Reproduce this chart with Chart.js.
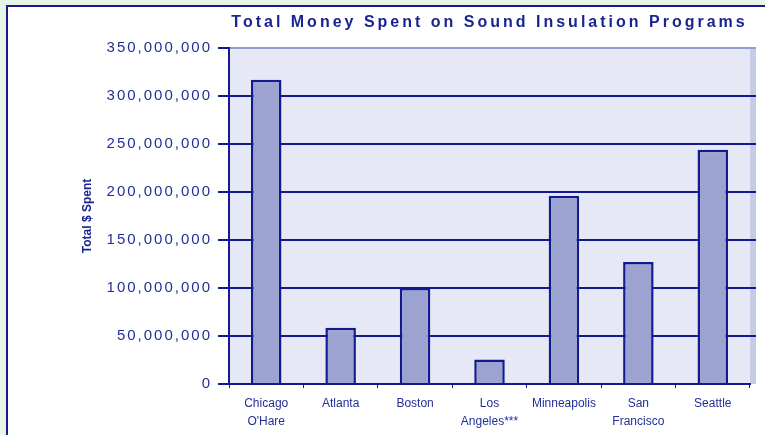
<!DOCTYPE html>
<html>
<head>
<meta charset="utf-8">
<script src="https://cdn.jsdelivr.net/npm/chart.js@4"></script>
<style>
  html, body { margin: 0; padding: 0; background: #e8f5e9; overflow: hidden; width: 765px; height: 435px; }
  #panel { position: absolute; left: 6px; top: 5px; width: 757px; height: 428px; background: #ffffff;
           border-left: 2px solid #161c8e; border-top: 2px solid #161c8e; }
  canvas { display: block; }
</style>
</head>
<body>
<div id="panel"><canvas id="c" width="757" height="428"></canvas></div>
<script>
// ---- data ----
const categories = [["Chicago", "O'Hare"], "Atlanta", "Boston", ["Los", "Angeles***"], "Minneapolis", ["San", "Francisco"], "Seattle"];
const totalSpent = [317000000, 58500000, 100000000, 25500000, 196000000, 127000000, 244000000];
const yTickValues = [0, 50000000, 100000000, 150000000, 200000000, 250000000, 300000000, 350000000];
const chartTitle = "Total Money Spent on Sound Insulation Programs";
const yAxisTitle = "Total $ Spent";

const NAVY = '#13198e';
const TEXT = '#232f97';
const FONT = "'Liberation Sans', Arial, sans-serif";
const WALL = 6;

function withSpacing(obj, method, spacing) {
  if (!obj || obj['__sp_' + method]) return;
  const orig = obj[method];
  obj[method] = function (...args) {
    const c = this.ctx;
    const prev = c.letterSpacing;
    c.letterSpacing = spacing;
    const r = orig.apply(this, args);
    c.letterSpacing = prev || '0px';
    return r;
  };
  obj['__sp_' + method] = true;
}

const plotDeco = {
  id: 'plotDeco',
  beforeDraw(chart) {
    const { ctx, chartArea: a } = chart;
    ctx.letterSpacing = '0px';
    withSpacing(chart.scales.y, 'drawLabels', '2px');
    withSpacing(chart.titleBlock, 'draw', '3px');
    ctx.save();
    ctx.fillStyle = '#e6e9f5';
    ctx.fillRect(a.left, a.top, a.right - a.left + WALL, a.bottom - a.top);
    ctx.fillStyle = '#c7cbe8';
    ctx.fillRect(a.right, a.top, WALL, a.bottom - a.top);
    ctx.fillStyle = '#959bd3';
    ctx.fillRect(a.left, a.top - 1, a.right - a.left + WALL, 2);
    ctx.restore();
  },
  beforeDatasetsDraw(chart) {
    const { ctx, chartArea: a, scales: { y } } = chart;
    ctx.save();
    ctx.strokeStyle = NAVY;
    ctx.lineWidth = 2;
    y.ticks.forEach(t => {
      if (t.value <= y.min || t.value >= y.max) return;
      const py = Math.round(y.getPixelForValue(t.value));
      ctx.beginPath();
      ctx.moveTo(a.left, py);
      ctx.lineTo(a.right + WALL, py);
      ctx.stroke();
    });
    ctx.restore();
  }
};

new Chart(document.getElementById('c'), {
  type: 'bar',
  data: {
    labels: categories,
    datasets: [{
      data: totalSpent,
      backgroundColor: '#9ca3d1',
      borderColor: NAVY,
      borderWidth: 2.5,
      barPercentage: 0.41,
      categoryPercentage: 1
    }]
  },
  options: {
    responsive: false,
    devicePixelRatio: 1,
    animation: false,
    layout: { padding: { left: 72, right: 15, top: 0, bottom: 0 } },
    plugins: {
      legend: { display: false },
      tooltip: { enabled: false },
      title: {
        display: true,
        text: chartTitle,
        fullSize: false,
        color: '#1a2490',
        font: { family: FONT, size: 16, weight: 'bold', lineHeight: 1.2 },
        padding: { top: 6.3, bottom: 15.5 }
      }
    },
    scales: {
      x: {
        afterFit: s => { s.height = 51; },
        grid: { offset: true, drawOnChartArea: false, drawTicks: true, tickLength: 4, color: NAVY, lineWidth: 1 },
        border: { display: true, color: NAVY, width: 2 },
        ticks: {
          autoSkip: false, maxRotation: 0, minRotation: 0, padding: 6,
          color: TEXT,
          font: { family: FONT, size: 12, lineHeight: 1.55 }
        }
      },
      y: {
        min: 0,
        max: 350000000,
        afterFit: s => { s.width = 149; },
        afterBuildTicks: s => { s.ticks = yTickValues.map(v => ({ value: v })); },
        grid: { drawOnChartArea: false, drawTicks: true, tickLength: 11, color: NAVY, lineWidth: 2 },
        border: { display: true, color: NAVY, width: 2 },
        ticks: {
          padding: 6,
          color: TEXT,
          font: { family: FONT, size: 15 },
          callback: v => Number(v).toLocaleString('en-US')
        },
        title: {
          display: true,
          text: yAxisTitle,
          color: '#1a2490',
          padding: { top: 0, bottom: 0 },
          font: { family: FONT, size: 12, weight: 'bold', lineHeight: 1.2 }
        }
      }
    }
  },
  plugins: [plotDeco]
});
</script>
</body>
</html>
